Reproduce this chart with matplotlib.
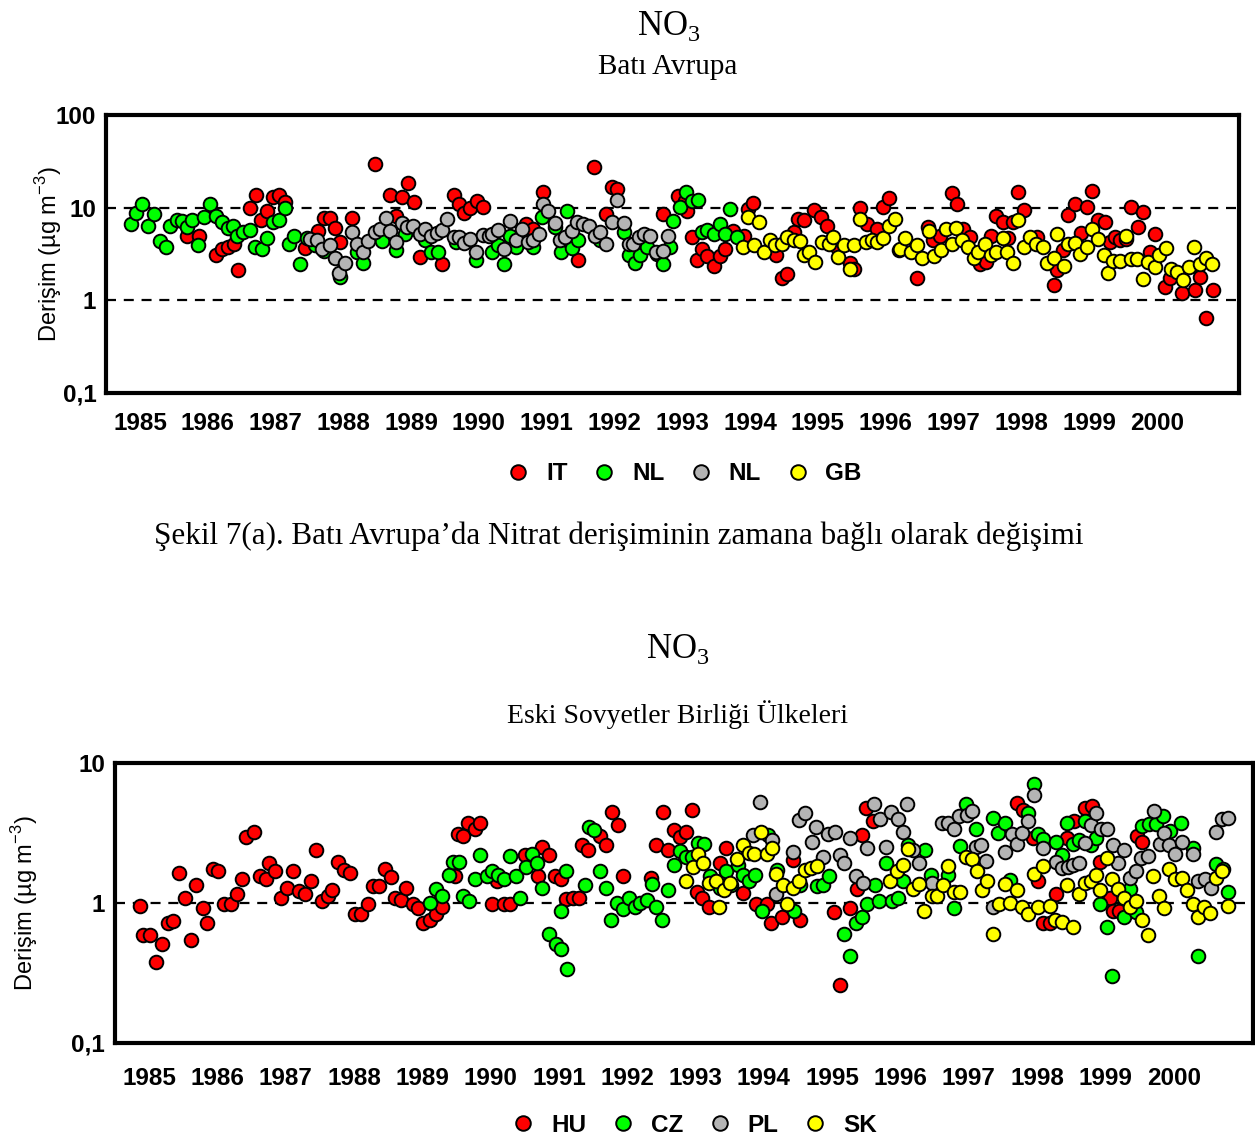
import numpy as np
import matplotlib
matplotlib.use("Agg")
import matplotlib.pyplot as plt
from matplotlib.lines import Line2D
from matplotlib.ticker import NullLocator

plt.rcParams['font.family'] = ['Liberation Sans', 'DejaVu Sans']

# x = months since Jan 1985, y = NO3 (µg m-3)
# --- Batı Avrupa ---
it_m = [14.4, 16.5, 19.5, 20.5, 21.5, 22.7, 23.3, 25.5, 26.5, 27.4, 28.4, 29.5, 30.7, 31.7, 35.3,
        37.6, 38.5, 39.6, 40.6, 41.4, 43.5, 47.6, 50.3, 51.4, 52.3, 53.5, 54.5, 55.5, 59.4, 61.5,
        62.5, 63.4, 64.4, 65.6, 66.7, 74.4, 75.6, 77.3, 83.5, 86.4, 88.5, 89.5, 90.5, 98.5, 101.3,
        102.4, 102.8, 103.7, 104.6, 105.5, 106.4, 107.6, 108.6, 109.5, 111.0, 112.9, 113.7, 114.5,
        118.6, 119.6, 120.6, 121.7, 122.4, 123.5, 125.3, 126.6, 127.6, 129.4, 131.7, 132.3, 133.4,
        134.6, 136.4, 137.5, 138.6, 140.3, 143.5, 145.5, 146.4, 147.6, 149.7, 150.6, 151.7, 152.9,
        154.7, 155.7, 156.7, 157.6, 158.7, 159.7, 160.5, 161.5, 162.5, 164.7, 167.7, 168.3, 169.3,
        170.3, 171.5, 172.6, 173.6, 174.6, 175.6, 176.8, 177.7, 178.6, 179.5, 180.6, 181.5, 182.6,
        183.6, 184.7, 185.7, 187.5, 188.4, 190.4, 192.7, 193.6, 194.7, 195.9]
it_v = [4.95, 5.0, 3.1, 3.6, 3.8, 4.1, 2.1, 9.8, 13.8, 7.3, 9.1, 12.9, 13.8, 11.6, 3.7,
        5.55, 7.8, 7.8, 6.1, 4.3, 7.8, 29.7, 13.6, 8.2, 13.1, 18.6, 11.4, 2.95, 2.45, 13.8,
        10.9, 8.8, 9.8, 11.7, 10.2, 6.7, 5.9, 14.6, 2.75, 27.4, 8.6, 16.7, 15.8, 8.6, 13.2,
        11.9, 9.3, 4.85, 2.7, 3.6, 3.0, 2.35, 3.0, 3.6, 5.6, 5.0, 9.7, 11.1,
        3.1, 1.75, 1.9, 5.5, 7.6, 7.4, 9.5, 7.9, 6.4, 3.8, 2.5, 2.2, 10.0,
        6.7, 5.9, 10.2, 12.6, 3.5, 1.75, 6.2, 4.45, 5.0, 14.5, 10.9, 5.9, 4.8,
        2.45, 2.6, 5.0, 8.2, 7.0, 4.65, 7.0, 14.8, 9.5, 4.8, 1.45, 2.1, 3.5,
        8.4, 10.9, 5.3, 10.2, 15.2, 7.3, 7.0, 4.3, 4.8, 4.45, 4.55, 10.2, 6.2,
        8.9, 3.35, 5.25, 1.4, 1.75, 1.2, 1.3, 1.8, 0.64, 1.3]

nl_m = [4.5, 5.3, 6.3, 7.5, 8.5, 9.6, 10.6, 11.4, 12.5, 13.4, 14.4, 15.3, 16.3, 17.4, 18.4,
        19.5, 20.5, 21.5, 22.5, 23.1, 24.3, 25.5, 26.4, 27.6, 28.4, 29.5, 30.7, 31.7, 32.3, 33.3,
        34.3, 35.5, 37.0, 38.5, 41.4, 44.4, 45.5, 48.8, 51.3, 53.0, 56.5, 57.6, 58.8, 62.0, 65.5,
        68.4, 69.4, 70.5, 71.5, 72.6, 75.6, 77.1, 79.4, 80.5, 81.5, 82.4, 83.6, 87.4, 91.6, 92.6,
        93.6, 94.5, 95.7, 97.5, 98.5, 99.8, 100.4, 101.6, 102.7, 103.7, 104.8, 105.5, 106.4,
        107.6, 108.6, 109.5, 110.5, 111.6]
nl_v = [6.7, 8.8, 10.9, 6.3, 8.6, 4.35, 3.75, 6.3, 7.4, 7.2, 6.2, 7.4, 3.95, 8.0, 10.9,
        8.2, 7.0, 6.1, 6.4, 5.0, 5.45, 5.8, 3.8, 3.6, 4.65, 7.0, 7.4, 10.0, 4.1, 5.0,
        2.45, 4.65, 4.0, 3.4, 1.8, 3.3, 2.5, 4.4, 3.5, 5.2, 4.45, 3.3, 3.35, 4.3, 2.7,
        3.35, 3.95, 2.45, 5.0, 3.8, 3.8, 7.9, 6.2, 3.35, 9.3, 3.65, 4.45, 4.45, 5.45, 3.1,
        2.5, 3.1, 3.8, 3.2, 2.45, 3.8, 7.1, 10.1, 14.6, 11.9, 12.1, 5.45, 5.7,
        5.25, 6.7, 5.25, 9.7, 4.85]

nl2_m = [36.1, 37.3, 38.3, 39.6, 40.5, 41.3, 42.3, 43.5, 44.4, 45.5, 46.4, 47.6, 48.5, 49.6,
         50.3, 51.3, 52.3, 53.2, 54.4, 55.5, 56.5, 57.6, 58.5, 59.4, 60.3, 61.5, 62.4, 63.4,
         64.4, 65.5, 66.7, 67.7, 68.4, 69.4, 70.4, 71.5, 72.5, 73.6, 74.6, 75.6, 76.7, 77.3,
         78.3, 79.4, 80.4, 81.3, 82.4, 83.3, 84.5, 85.5, 86.5, 87.4, 88.5, 89.5, 90.5, 91.6,
         92.5, 93.3, 94.4, 95.3, 96.3, 97.3, 98.5, 99.5]
nl2_v = [4.55, 4.45, 3.6, 4.0, 2.85, 1.97, 2.55, 5.45, 4.1, 3.35, 4.35, 5.45, 5.9, 7.8,
         5.55, 4.3, 6.9, 6.2, 6.4, 5.25, 5.9, 5.0, 5.3, 5.8, 7.6, 4.85, 4.85, 4.2,
         4.55, 3.3, 5.1, 5.0, 5.25, 5.8, 3.6, 7.1, 4.45, 5.9, 4.3, 4.45, 5.25, 10.9,
         9.3, 6.8, 4.45, 4.8, 5.55, 7.0, 6.7, 6.4, 5.0, 5.45, 4.1, 7.0, 12.0, 6.8,
         4.1, 4.1, 4.8, 5.25, 5.0, 3.35, 3.4, 5.0]

gb_m = [112.8, 113.7, 114.6, 115.5, 116.5, 117.6, 118.4, 119.6, 120.5, 121.7, 122.8, 123.5,
        124.5, 125.5, 126.7, 127.9, 128.7, 129.6, 130.7, 131.7, 132.4, 133.4, 134.5, 135.5,
        136.4, 137.6, 138.6, 139.7, 140.5, 141.4, 142.4, 143.5, 144.5, 145.7, 146.6, 147.7,
        148.7, 149.7, 150.4, 151.5, 152.5, 153.6, 154.4, 155.6, 156.6, 157.6, 158.7, 159.4,
        160.5, 161.5, 162.5, 163.6, 164.6, 165.8, 166.6, 167.7, 168.4, 169.5, 170.3, 171.5,
        172.4, 173.6, 174.6, 175.6, 176.7, 177.4, 178.3, 179.5, 180.5, 181.5, 182.5, 183.6,
        184.5, 185.7, 186.4, 187.6, 188.5, 189.5, 190.6, 191.6, 192.6, 193.6, 194.7, 195.8]
gb_v = [3.8, 7.9, 3.95, 7.0, 3.3, 4.45, 3.95, 4.1, 4.8, 4.45, 4.4, 3.1,
        3.35, 2.6, 4.3, 4.1, 4.8, 2.95, 3.95, 2.2, 3.95, 7.6, 4.3, 4.45,
        4.3, 4.65, 6.3, 7.5, 3.55, 4.65, 3.35, 3.95, 2.85, 5.55, 3.0, 3.5,
        5.9, 4.1, 6.0, 4.45, 3.8, 2.85, 3.35, 4.1, 3.1, 3.35, 4.65, 3.35,
        2.55, 7.4, 3.8, 4.8, 4.1, 3.8, 2.5, 2.85, 5.25, 2.35, 4.1, 4.15,
        3.2, 3.8, 5.9, 4.55, 3.1, 1.95, 2.65, 2.65, 5.0, 2.8, 2.8, 1.7,
        2.6, 2.3, 3.1, 3.65, 2.2, 2.0, 1.65, 2.3, 3.8, 2.45, 2.85, 2.45]

# --- Eski Sovyetler Birliği Ülkeleri ---
hu_m = [4.4, 5.0, 6.1, 7.2, 8.2, 9.3, 10.2, 11.3, 12.3, 13.4, 14.3, 15.5, 16.1, 17.3, 18.1,
        19.2, 20.3, 21.4, 22.4, 23.1, 24.4, 25.4, 26.5, 27.1, 28.2, 29.1, 30.2, 31.2, 32.3,
        33.4, 34.4, 35.4, 36.3, 37.4, 38.2, 39.1, 40.2, 41.3, 42.2, 43.3, 44.4, 45.4, 46.4,
        47.4, 48.5, 49.2, 50.2, 51.2, 52.3, 53.3, 54.2, 55.3, 56.4, 57.4, 59.7, 60.3, 61.2,
        62.1, 63.2, 64.2, 66.3, 67.1, 68.4, 69.4, 72.0, 74.3, 75.1, 76.3, 77.3, 78.3, 79.3,
        80.4, 81.5, 82.1, 83.1, 85.2, 86.2, 87.4, 88.4, 89.3, 94.1, 95.1, 96.2, 97.2, 98.2,
        99.2, 100.3, 101.3, 102.2, 103.2, 104.4, 106.3, 107.3, 110.4, 112.7, 114.5, 115.3,
        117.1, 119.1, 120.3, 126.3, 127.4, 129.1, 130.3, 131.3, 132.0, 133.2, 158.4, 159.6,
        161.3, 162.2, 163.1, 164.2, 165.3, 167.3, 168.5, 170.4, 171.6, 173.0, 174.8, 175.3,
        176.4, 179.5, 180.5]
hu_v = [0.95, 0.59, 0.59, 0.38, 0.51, 0.72, 0.74, 1.63, 1.09, 0.54, 1.35, 0.92, 0.72, 1.75, 1.68,
        0.98, 0.98, 1.16, 1.48, 2.95, 3.2, 1.55, 1.48, 1.92, 1.68, 1.08, 1.27, 1.68, 1.21,
        1.15, 1.44, 2.4, 1.04, 1.12, 1.23, 1.97, 1.72, 1.63, 0.83, 0.83, 0.99, 1.32, 1.32,
        1.75, 1.53, 1.08, 1.05, 1.27, 0.98, 0.92, 0.72, 0.75, 0.83, 0.94, 1.55, 3.1, 3.0,
        3.75, 3.35, 3.75, 0.98, 1.43, 0.98, 0.99, 2.2, 1.56, 2.5, 2.2, 1.55, 1.48, 1.06,
        1.09, 1.08, 2.58, 2.4, 3.03, 2.58, 4.5, 3.6, 1.55, 1.52, 2.58, 4.5, 2.4, 3.3,
        2.95, 3.23, 4.65, 1.19, 1.09, 0.93, 1.92, 2.47, 1.18, 0.99, 0.99, 0.72,
        0.79, 2.02, 0.75, 0.86, 0.26, 0.92, 1.25, 3.06, 4.8, 3.85, 5.2, 4.6,
        2.9, 1.43, 0.72, 0.72, 1.15, 2.9, 3.86, 4.75, 4.92, 1.97, 1.09, 0.88,
        0.87, 3.03, 2.72]

cz_m = [55.3, 56.4, 57.4, 58.6, 59.4, 60.5, 61.1, 62.2, 63.2, 64.2, 65.3, 66.3, 67.3, 68.4,
        69.4, 70.4, 71.2, 72.2, 73.2, 74.2, 75.1, 76.3, 77.5, 78.3, 78.4, 79.3, 79.4, 82.6,
        83.2, 84.2, 85.2, 86.2, 87.2, 88.2, 89.3, 90.3, 91.3, 92.2, 93.4, 94.3, 95.1, 96.1,
        97.2, 98.2, 99.2, 100.3, 101.3, 102.4, 103.4, 104.5, 105.5, 106.3, 107.3, 108.3,
        109.4, 110.4, 111.3, 112.4, 113.6, 114.8, 116.3, 119.3, 120.4, 123.3, 124.3, 125.5,
        128.1, 129.1, 130.2, 131.2, 132.2, 133.5, 134.3, 135.4, 136.5, 137.6, 138.5, 139.4,
        142.3, 143.3, 146.4, 147.4, 148.4, 149.5, 151.2, 154.3, 155.1, 156.3, 157.3, 160.4,
        161.4, 162.2, 163.0, 165.3, 166.3, 167.3, 168.3, 169.4, 170.4, 171.4, 172.4, 173.1,
        174.2, 175.2, 177.3, 178.4, 179.3, 180.5, 181.7, 182.8, 184.1, 185.3, 187.2, 189.4,
        190.3, 193.4, 194.6, 195.6]
cz_v = [1.0, 1.25, 1.13, 1.59, 1.97, 1.97, 1.12, 1.04, 1.48, 2.2, 1.57, 1.69, 1.59, 1.49,
        2.17, 1.57, 1.09, 1.82, 2.22, 1.92, 1.27, 0.6, 0.51, 0.87, 0.47, 1.69, 0.34, 1.34,
        3.5, 3.3, 1.69, 1.28, 0.75, 1.0, 0.9, 1.08, 0.93, 1.0, 1.05, 1.37, 0.93, 0.75,
        1.23, 1.87, 2.34, 2.13, 2.13, 2.67, 2.65, 1.55, 1.43, 1.28, 1.69, 1.35,
        1.88, 1.59, 1.43, 1.59, 0.87, 3.06, 1.72, 0.88, 1.35, 1.32, 1.34, 1.55,
        0.6, 0.42, 0.72, 0.79, 0.99, 1.35, 1.04, 1.92, 1.04, 1.08, 1.43, 2.58,
        2.38, 1.59, 1.59, 0.92, 2.55, 5.1, 3.4, 4.07, 3.14, 3.71, 1.47, 4.4,
        7.05, 3.12, 2.87, 2.72, 2.19, 3.71, 2.65, 2.8, 3.86, 2.58, 2.9, 0.99,
        0.67, 0.30, 0.79, 1.25, 0.86, 3.56, 3.65, 3.65, 4.18, 3.28, 3.75, 2.47,
        0.42, 1.89, 1.75, 1.2]

pl_m = [112.1, 113.3, 115.5, 116.2, 119.1, 120.2, 121.2, 122.4, 123.2, 124.3, 125.3, 126.5,
        127.3, 128.1, 129.1, 130.1, 131.4, 132.2, 133.4, 134.4, 135.4, 136.4, 137.5, 138.5,
        139.1, 140.2, 141.3, 143.5, 145.2, 146.4, 147.4, 148.3, 149.6, 150.5, 151.2, 152.2,
        153.1, 154.3, 156.3, 157.5, 158.5, 159.4, 160.4, 161.4, 163.1, 165.4, 166.3, 167.4,
        168.3, 169.4, 170.4, 171.4, 172.4, 173.3, 174.2, 175.3, 176.2, 177.3, 178.3, 179.3,
        180.3, 181.5, 182.5, 183.5, 184.3, 185.2, 186.2, 187.4, 189.3, 190.3, 191.5, 192.6,
        193.5, 194.4, 195.6]
pl_v = [3.06, 5.25, 2.84, 1.15, 2.31, 3.9, 4.4, 2.72, 3.5, 2.13, 3.12, 3.2,
        2.19, 1.92, 2.9, 1.57, 1.39, 2.48, 5.1, 3.96, 2.51, 4.5, 3.96, 3.2,
        5.1, 2.38, 1.92, 1.39, 3.75, 3.71, 3.37, 4.18, 4.22, 4.53, 2.51, 2.6,
        1.99, 0.93, 2.31, 3.12, 2.65, 3.16, 3.86, 5.95, 2.47, 1.97, 1.77, 1.82,
        1.87, 1.92, 2.67, 3.6, 4.4, 3.4, 3.37, 2.6, 1.92, 2.38, 1.5, 1.68,
        2.1, 2.17, 4.53, 2.65, 3.16, 2.58, 2.22, 2.72, 2.22, 1.44, 1.49, 1.29,
        3.2, 3.96, 4.07]

sk_m = [100.3, 101.5, 102.5, 103.3, 104.4, 105.5, 106.1, 107.0, 108.0, 109.2, 110.3, 111.3,
        112.3, 113.5, 114.5, 115.5, 116.2, 117.3, 118.1, 119.1, 120.2, 121.2, 122.3, 123.4,
        136.1, 137.3, 138.5, 139.3, 140.2, 141.3, 142.1, 143.5, 144.4, 145.4, 146.4, 147.4,
        148.5, 149.5, 150.5, 151.4, 152.3, 153.2, 154.3, 155.3, 156.3, 157.3, 158.4, 159.4,
        160.4, 161.4, 162.2, 163.1, 164.2, 165.1, 166.3, 167.3, 168.3, 169.4, 170.4, 171.4,
        172.4, 173.1, 174.2, 175.2, 176.2, 177.3, 178.3, 179.3, 180.5, 181.5, 182.4, 183.4,
        184.3, 185.2, 186.2, 187.4, 188.4, 189.4, 190.3, 191.3, 192.3, 193.4, 194.4, 195.6]
sk_v = [1.44, 1.82, 2.25, 1.92, 1.39, 1.43, 0.93, 1.23, 1.39, 2.05, 2.58, 2.29,
        2.22, 3.2, 2.25, 2.47, 1.6, 1.34, 0.99, 1.28, 1.43, 1.72, 1.77, 1.85,
        1.43, 1.68, 1.87, 2.42, 1.25, 1.37, 0.87, 1.12, 1.13, 1.35, 1.85, 1.2,
        1.19, 2.13, 2.05, 1.68, 1.23, 1.44, 0.6, 0.99, 1.37, 1.0, 1.23, 0.93,
        0.84, 1.61, 0.93, 1.85, 0.95, 0.75, 0.73, 1.35, 0.67, 1.15, 1.39, 1.44,
        1.59, 1.23, 2.1, 1.48, 1.25, 1.09, 0.94, 1.04, 0.75, 0.59, 1.55, 1.12,
        0.92, 1.74, 1.48, 1.5, 1.23, 0.99, 0.79, 0.94, 0.85, 1.5, 1.69, 0.95]

years = list(range(1985, 2001))
RED, GREEN, GRAY, YELLOW = '#ff0000', '#00ff00', '#b4b4b4', '#ffff00'
SERIF = ['Liberation Serif', 'DejaVu Serif']


def panel(ax, series, ymax, lines, xmax, label_x, xpad):
    for m, v, c in series:
        x = 1985 + np.array(m) / 12.0
        ax.plot(x, v, 'o', ls='none', ms=9.8, mfc=c, mec='black', mew=1.4)
    for h in lines:
        ax.axhline(h, color='black', ls=(0, (4.5, 3.5)), lw=1.6, zorder=0)
    ax.set_yscale('log')
    ax.set_ylim(0.1, ymax)
    ax.set_xlim(1985, xmax)
    yt = [0.1, 1, 10, 100][:int(round(np.log10(ymax))) + 2]
    ax.set_yticks(yt)
    ax.set_yticklabels([str(t).replace('.', ',') if t < 1 else str(int(t)) for t in yt])
    ax.yaxis.set_minor_locator(NullLocator())
    ax.set_xticks([y + 0.5 for y in years])
    ax.set_xticklabels([str(y) for y in years])
    ax.tick_params(axis='both', length=0, labelsize=17.5)
    ax.tick_params(axis='x', pad=xpad)
    ax.tick_params(axis='y', pad=7)
    for lab in ax.get_xticklabels() + ax.get_yticklabels():
        lab.set_fontweight('bold')
    for s in ax.spines.values():
        s.set_linewidth(3.0)
    ax.set_ylabel('Derişim (µg m$^{\\mathregular{-3}}$)', fontsize=17)
    ax.yaxis.set_label_coords(label_x, 0.5)


def legend(fig, names, x, y):
    cols = [RED, GREEN, GRAY, YELLOW]
    h = [Line2D([], [], marker='o', ls='none', ms=10.5, mfc=c, mec='black', mew=1.4) for c in cols]
    leg = fig.legend(h, names, loc='center', bbox_to_anchor=(x, y), ncol=4, frameon=False,
                     handlelength=1.0, handletextpad=0.65, columnspacing=1.0,
                     prop={'weight': 'bold', 'size': 17.5})
    return leg


fig = plt.figure(figsize=(12.55, 11.41), dpi=100)

ax1 = fig.add_axes([0.0845, 0.6556, 0.9027, 0.2436])
panel(ax1, [(it_m, it_v, RED), (nl_m, nl_v, GREEN), (nl2_m, nl2_v, GRAY), (gb_m, gb_v, YELLOW)],
      100, [10, 1], 2001.71, -0.037, 14)
legend(fig, ['IT', 'NL', 'NL', 'GB'], 0.545, 0.585)

ax2 = fig.add_axes([0.0916, 0.0859, 0.9068, 0.2454])
panel(ax2, [(hu_m, hu_v, RED), (cz_m, cz_v, GREEN), (pl_m, pl_v, GRAY), (sk_m, sk_v, YELLOW)],
      10, [1], 2001.66, -0.066, 17)
legend(fig, ['HU', 'CZ', 'PL', 'SK'], 0.553, 0.014)

fig.text(0.533, 0.977, 'NO$_{\\mathregular{3}}$', ha='center', va='center', fontsize=25, family=SERIF)
fig.text(0.532, 0.941, 'Batı Avrupa', ha='center', va='center', fontsize=21, family=SERIF)
fig.text(0.493, 0.530, 'Şekil 7(a). Batı Avrupa’da Nitrat derişiminin zamana bağlı olarak değişimi',
         ha='center', va='center', fontsize=22.4, family=SERIF)
fig.text(0.540, 0.431, 'NO$_{\\mathregular{3}}$', ha='center', va='center', fontsize=25, family=SERIF)
fig.text(0.540, 0.374, 'Eski Sovyetler Birliği Ülkeleri', ha='center', va='center', fontsize=20,
         family=SERIF)

fig.savefig('out.png', dpi=100)
